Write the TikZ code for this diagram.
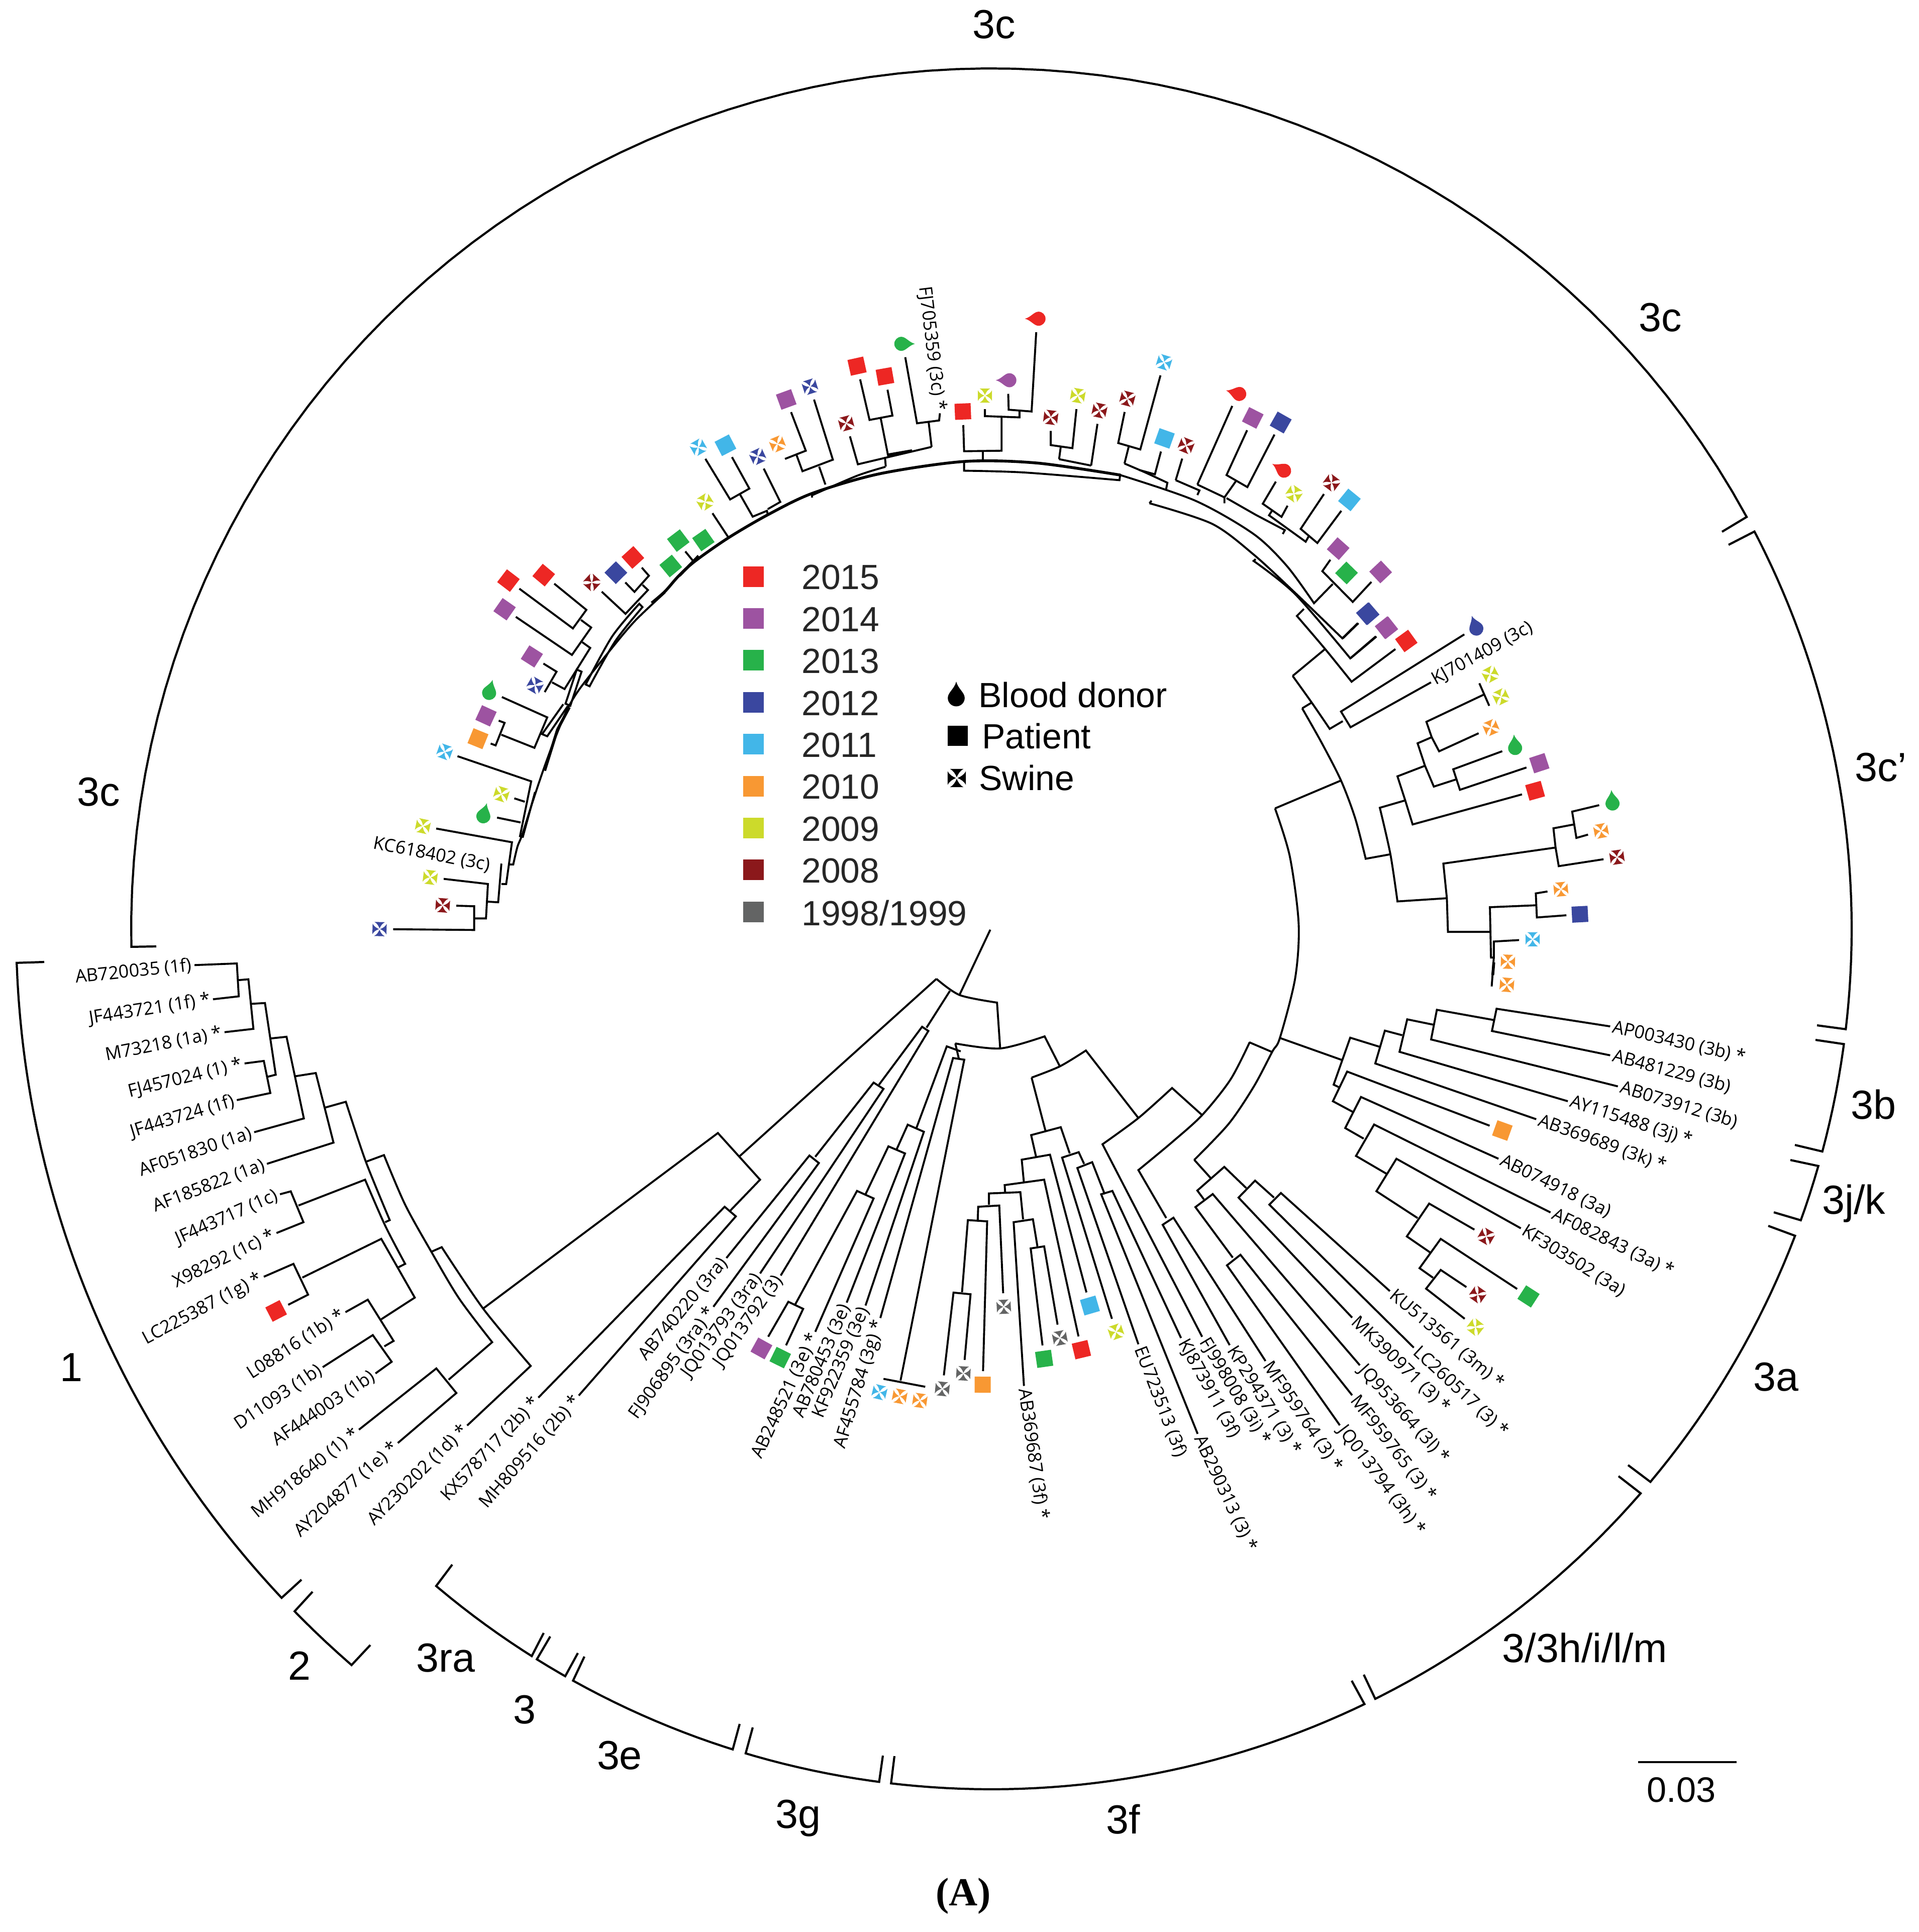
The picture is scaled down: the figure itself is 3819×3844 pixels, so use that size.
\documentclass[tikz,border=0pt]{standalone}
\usepackage{fontspec}
\setmainfont{Liberation Sans}
\newfontfamily\taxonfont{Open Sans}
\newfontfamily\capfont{Liberation Serif}
\usetikzlibrary{calc}

\definecolor{cRed}{HTML}{ED2724}
\definecolor{cPurple}{HTML}{9D53A1}
\definecolor{cGreen}{HTML}{27B24A}
\definecolor{cBlue}{HTML}{3A479F}
\definecolor{cSky}{HTML}{42B6E8}
\definecolor{cOrange}{HTML}{F89833}
\definecolor{cOlive}{HTML}{CCDA2B}
\definecolor{cDark}{HTML}{8B181B}
\definecolor{cGrey}{HTML}{636464}

\tikzset{
  branch/.style={line width=1.1pt},
  spine/.style={line width=1.6pt},
  bracket/.style={line width=1.2pt},
  taxon/.style={font=\taxonfont\fontsize{10.2}{12}\selectfont,inner sep=1.5pt,text=black},
  taxonL/.style={taxon,anchor=east},
  taxonR/.style={taxon,anchor=west},
  clade/.style={font=\fontsize{23}{26}\selectfont},
  yearlabel/.style={font=\fontsize{19.8}{24}\selectfont,text=black!85,anchor=west},
  hostlabel/.style={font=\fontsize{19.8}{24}\selectfont,anchor=west},
  leaf/.style={circle,minimum size=0.54cm,inner sep=0pt,outer sep=0pt},
  yearbox/.style={minimum size=0.41cm,inner sep=0pt,outer sep=0pt},
  pics/sqmark/.style={code={\fill[#1] (-0.16cm,-0.16cm) rectangle (0.16cm,0.16cm);}},
  pics/swinemark/.style={code={\foreach \a in {0,90,180,270}
    \fill[#1,rotate=\a] (0cm,0.012cm) .. controls (-0.025cm,0.07cm) and (-0.05cm,0.11cm) .. (-0.105cm,0.14cm) -- (0.105cm,0.14cm) .. controls (0.05cm,0.11cm) and (0.025cm,0.07cm) .. (0cm,0.012cm) -- cycle;}},
  pics/dropmark/.style={code={\fill[#1] (0cm,0.24cm) .. controls (0.03cm,0.12cm) and (0.14cm,0.06cm) .. (0.14cm,-0.03cm)
    arc[start angle=0,end angle=-180,radius=0.14cm] .. controls (-0.14cm,0.06cm) and (-0.03cm,0.12cm) .. (0cm,0.24cm) -- cycle;}},
  cropA/.style={shift={(0,1800)},x=0.007653cm,y=-0.008291cm},
  cropB/.style={shift={(1100,1800)},x=0.008929cm,y=-0.008291cm},
  cropC/.style={shift={(2300,1200)},x=0.007015cm,y=-0.006378cm},
  cropD/.style={shift={(2300,2000)},x=0.007653cm,y=-0.007015cm},
  cropE/.style={shift={(650,1000)},x=0.006378cm,y=-0.006059cm},
  cropF/.style={shift={(1500,550)},x=0.008291cm,y=-0.005102cm},
  cropG/.style={shift={(1250,800)},x=0.003333cm,y=-0.003333cm},
}

% leaves: name, position, colour
\newcommand{\sqleaf}[3]{\path let \p1=(#2),\p2=(C),\n1={atan2(\y1-\y2,\x1-\x2)-90} in (#2) node[leaf] (#1) {} pic[rotate=\n1] {sqmark=#3};}
\newcommand{\swleaf}[3]{\path let \p1=(#2),\p2=(C),\n1={atan2(\y1-\y2,\x1-\x2)-90} in (#2) node[leaf] (#1) {} pic[rotate=\n1] {swinemark=#3};}
% name, position, direction of the tip, colour
\newcommand{\dropleaf}[4]{\path (#2) node[leaf] (#1) {} pic[rotate=#3-90] {dropmark=#4};}
% outer arcs: first tick end, start angle, end angle, radius, last tick end
\newcommand{\cladearc}[5]{\draw[bracket] #1 -- plot[domain=#2:#3,samples=80] ({1973+#4*cos(\x)},{1848+#4*sin(\x)}) -- #5;}

\begin{document}
\begin{tikzpicture}[x=0.01cm,y=-0.01cm]
\useasboundingbox (0,0) rectangle (3819,3844);
\coordinate (C) at (1960,1880);

% outer arcs
\cladearc{(311,1883)}{178.8}{331.4}{1712}{(3427,1058)}
\cladearc{(3440,1084)}{332.5}{366.7}{1712}{(3616,2040)}
\cladearc{(3613,2069)}{7.7}{15}{1712}{(3572,2278)}
\cladearc{(3563,2308)}{16}{19.8}{1712}{(3530,2412)}
\cladearc{(3519,2439)}{20.9}{40}{1712}{(3240,2915)}
\cladearc{(3221,2937)}{41}{63.5}{1712}{(2714,3332)}
\cladearc{(2690,3344)}{64.3}{96.7}{1712}{(1780,3494)}
\cladearc{(1757,3493)}{97.5}{106.6}{1712}{(1498,3437)}
\cladearc{(1472,3430)}{107.5}{119.1}{1712}{(1163,3296)}
\cladearc{(1150,3289)}{119.7}{121.9}{1712}{(1095,3256)}
\cladearc{(1082,3249)}{122.3}{130.2}{1712}{(900,3113)}
\cladearc{(622,3167)}{135.6}{131}{1941}{(737,3273)}
\cladearc{(88,1914)}{178}{136.7}{1941}{(600,3143)}

\node[clade] (lab3ctop) at (1978,49) {3c};
\node[clade] (lab3cright) at (3304,632) {3c};
\node[clade] (lab3cleft) at (196,1576) {3c};
\node[clade] (lab3cprime) at (3743,1527) {3c’};
\node[clade] (lab3b) at (3728,2198) {3b};
\node[clade] (lab3jk) at (3689,2395) {3j/k};
\node[clade] (lab3a) at (3534,2740) {3a};
\node[clade] (lab3hilm) at (3154,3279) {3/3h/i/l/m};
\node[clade] (lab3f) at (2235,3620) {3f};
\node[clade] (lab3g) at (1588,3618) {3g};
\node[clade] (lab3e) at (1233,3493) {3e};
\node[clade] (lab3) at (1044,3402) {3};
\node[clade] (lab3ra) at (887,3299) {3ra};
\node[clade] (lab2) at (596,3314) {2};
\node[clade] (lab1) at (142,2721) {1};

% scale bar and panel letter
\coordinate (barL) at (3260,3506);
\coordinate (barR) at (3456,3506);
\draw[bracket] (barL) -- (barR);
\node[font=\fontsize{20}{24}\selectfont] (barval) at (3346,3561) {0.03};
\node[font=\capfont\bfseries\fontsize{22.5}{26}\selectfont] (panel) at (1917,3772) {(A)};

% legend
\foreach \yr/\col [count=\i from 0] in {2015/cRed,2014/cPurple,2013/cGreen,2012/cBlue,2011/cSky,2010/cOrange,2009/cOlive,2008/cDark,1998\slash 1999/cGrey}{
  \node[yearbox,fill=\col] (box\i) at (1499,{1147+83.4*\i}) {};
  \node[yearlabel] (year\i) at (1583,{1149+83.4*\i}) {\yr};
}
\path (1903,1385) pic[scale=1.2] {dropmark=black};
\path (1906,1464) pic[scale=1.25] {sqmark=black};
\path (1904,1548) pic[scale=1.3] {swinemark=black};
\node[hostlabel] (hostdonor) at (1935,1383) {Blood donor};
\node[hostlabel] (hostpatient) at (1942,1465) {Patient};
\node[hostlabel] (hostswine) at (1936,1548) {Swine};

% genotype 1
\begin{scope}[cropA]
\node[taxonL,rotate=6] (AB720035) at (505,145) {AB720035 (1f)};
\node[taxonL,rotate=9] (JF443721) at (553,227) {JF443721 (1f) *};
\node[taxonL,rotate=11] (M73218) at (583,306) {M73218 (1a) *};
\node[taxonL,rotate=14] (FJ457024) at (635,381) {FJ457024 (1) *};
\node[taxonL,rotate=17] (JF443724) at (615,469) {JF443724 (1f)};
\node[taxonL,rotate=19] (AF051830) at (660,546) {AF051830 (1a)};
\node[taxonL,rotate=21] (AF185822) at (693,622) {AF185822 (1a)};
\node[taxonL,rotate=24] (JF443717) at (727,695) {JF443717 (1c)};
\node[taxonL,rotate=26] (X98292) at (718,788) {X98292 (1c) *};
\node[taxonL,rotate=28] (LC225387) at (685,893) {LC225387 (1g) *};
\node[taxonL,rotate=33] (L08816) at (897,978) {L08816 (1b) *};
\node[taxonL,rotate=34] (D11093) at (838,1110) {D11093 (1b)};
\node[taxonL,rotate=34] (AF444003) at (975,1125) {AF444003 (1b)};
\node[taxonL,rotate=39] (MH918640) at (932,1260) {MH918640 (1) *};
\node[taxonL,rotate=42] (AY204877) at (1033,1292) {AY204877 (1e) *};
\node[taxonL,rotate=45] (AY230202) at (1213,1250) {AY230202 (1d) *};
\sqleaf{sqOne}{717,975}{cRed}
\draw[branch] (AB720035.east) -- (615,141) -- (620,220) -- (JF443721.east);
\draw[branch] (620,181) -- (645,179) -- (658,298) -- (M73218.east);
\draw[branch] (652,238) -- (688,236) -- (716,408) -- (695,413);
\draw[branch] (FJ457024.east) -- (685,375) -- (702,452) -- (JF443724.east);
\draw[branch] (703,321) -- (744,317) -- (789,513) -- (AF051830.east);
\draw[branch] (765,412) -- (820,404) -- (866,571) -- (AF185822.east);
\draw[branch] (844,487) -- plot[smooth] coordinates {(898,473) (950,617) (1012,757)} -- (1000,762);
\draw[branch] (950,617) -- plot[smooth] coordinates {(997,601) (1052,720) (1120,833) (1192,945) (1278,1050)} -- (1165,1140);
\draw[branch] (1120,833) -- plot[smooth] coordinates {(1147,822) (1255,970) (1378,1107)} -- (AY230202.east);
\draw[branch] (MH918640.east) -- (1133,1113) -- (1185,1172) -- (AY204877.east);
\draw[branch] (775,722) -- plot[smooth] coordinates {(948,660) (1000,770) (1052,862)} -- (1035,870);
\draw[branch] (JF443717.east) -- (755,688) -- (788,762) -- (X98292.east);
\draw[branch] (785,895) -- (990,802) -- (1077,943) -- (990,995);
\draw[branch] (LC225387.east) -- (762,862) -- (800,936) -- (sqOne);
\draw[branch] (L08816.east) -- (955,948) -- (1022,1047) -- (998,1060);
\draw[branch] (D11093.east) -- (968,1033) -- (1017,1097) -- (AF444003.east);
\end{scope}

% genotype 2, 3ra, 3e, 3g, 3f
\begin{scope}[cropB]
\node[taxonL,rotate=47] (KX578717) at (-32,1183) {KX578717 (2b) *};
\node[taxonL,rotate=49] (MH809516) at (58,1178) {MH809516 (2b) *};
\node[taxonL,rotate=50] (AB740220) at (387,848) {AB740220 (3ra)};
\node[taxonL,rotate=54] (FJ906895) at (358,965) {FJ906895 (3ra) *};
\node[taxonL,rotate=54] (JQ013793) at (462,885) {JQ013793 (3ra)};
\node[taxonL,rotate=55] (JQ013792) at (508,890) {JQ013792 (3)};
\node[taxonL,rotate=65] (AB248521) at (585,1025) {AB248521 (3e) *};
\node[taxonL,rotate=67] (AB780453) at (655,955) {AB780453 (3e)};
\node[taxonL,rotate=67] (KF922359) at (697,962) {KF922359 (3e)};
\node[taxonL,rotate=73] (AF455784) at (730,992) {AF455784 (3g) *};
\node[taxonR,rotate=-82] (AB369687) at (1050,1155) {AB369687 (3f) *};
\node[taxonR,rotate=-69] (EU723513) at (1305,1055) {EU723513 (3f)};
\node[taxonR,rotate=-65] (AB290313) at (1437,1270) {AB290313 (3) *};
\node[taxonR,rotate=-61] (KJ873911) at (1400,1040) {KJ873911 (3f)};
\node[taxonR,rotate=-59] (FJ998008) at (1447,1037) {FJ998008 (3i) *};
\sqleaf{sqB1}{465,1065}{cPurple}
\sqleaf{sqB2}{507,1087}{cGreen}
\swleaf{swB1}{728,1170}{cSky}
\swleaf{swB2}{773,1180}{cOrange}
\swleaf{swB3}{818,1190}{cOrange}
\swleaf{swB4}{868,1162}{cGrey}
\swleaf{swB5}{915,1125}{cGrey}
\sqleaf{sqB3}{958,1152}{cOrange}
\swleaf{swB6}{1005,965}{cGrey}
\sqleaf{sqB4}{1095,1090}{cGreen}
\swleaf{swB7}{1130,1040}{cGrey}
\sqleaf{sqB5}{1178,1068}{cRed}
\sqleaf{sqB6}{1197,962}{cSky}
\swleaf{swB8}{1255,1025}{cOlive}
\draw[branch] (-156,970) -- (368,548) -- (462,660) -- (395,735);
\draw[branch] (415,605) -- (855,178);
\draw[branch] (KX578717.east) -- (383,725) -- (408,748) -- (MH809516.east);
\draw[branch] (975,60) -- (907,215);
\draw[branch] plot[smooth] coordinates {(855,178) (907,217) (990,235)} -- (997,345);
\draw[branch] (885,207) -- (833,295);
\draw[branch] (JQ013793.east) -- (737,442) -- (715,427) -- (585,605);
\draw[branch] (727,432) -- (823,293) -- (837,303) -- (JQ013792.east);
\draw[branch] (AB740220.east) -- (572,602) -- (593,620) -- (FJ906895.east);
\draw[branch] plot[smooth] coordinates {(897,333) (997,345) (1096,316)} -- (1130,388);
\draw[branch] (897,333) -- (905,370);
\draw[branch] (909,352) -- (878,340) -- (810,537);
\draw[branch] (AF455784.east) -- (892,368) -- (917,372) -- (775,1142);
\draw[branch] (737,1138) -- (830,1157);
\draw[branch] (766,588) -- (791,528) -- (827,545) -- (KF922359.east);
\draw[branch] (697,695) -- (748,580) -- (785,597) -- (AB780453.east);
\draw[branch] (540,960) -- (678,687) -- (715,705) -- (AB248521.east);
\draw[branch] (sqB1) -- (525,953) -- (558,970) -- (sqB2);
\draw[branch] plot[smooth] coordinates {(1067,415) (1130,388) (1188,350)} -- (1305,512);
\draw[branch] (1067,415) -- (1098,543);
\draw[branch] (1077,605) -- (1066,553) -- (1132,534) -- (1152,597);
\draw[branch] (1050,668) -- (1045,612) -- (1108,600) -- (sqB6);
\draw[branch] (1008,690) -- (1007,673) -- (1095,660) -- (sqB5);
\draw[branch] (972,720) -- (972,693) -- (1042,690) -- (1048,755);
\draw[branch] (947,757) -- (948,725) -- (995,722) -- (swB6);
\draw[branch] (912,930) -- (925,757) -- (968,760) -- (sqB3);
\draw[branch] (swB4) -- (893,931) -- (931,935) -- (swB5);
\draw[branch] (AB369687.west) -- (1027,762) -- (1070,755) -- (1080,820);
\draw[branch] (sqB4) -- (1065,825) -- (1095,820) -- (swB7);
\draw[branch] (swB8) -- (1135,607) -- (1172,594) -- (1184,622);
\draw[branch] (EU723513.west) -- (1169,632) -- (1202,618) -- (1230,695);
\draw[branch] (AB290313.west) -- (1222,695) -- (1247,687) -- (KJ873911.west);
\draw[branch] (FJ998008.west) -- plot[smooth] coordinates {(1225,575) (1305,512) (1380,440)} -- (1447,505);
\draw[branch] (1367,752) -- plot[smooth] coordinates {(1305,637) (1380,570) (1447,505) (1510,420) (1553,330)};
\end{scope}

% 3h/i/l/m, 3a, 3b, 3j/k
\begin{scope}[cropD]
\node[taxonR,rotate=-58] (KP294371) at (192,963) {KP294371 (3) *};
\node[taxonR,rotate=-56] (MF959764) at (285,1008) {MF959764 (3) *};
\node[taxonR,rotate=-53] (JQ013794) at (478,1190) {JQ013794 (3h) *};
\node[taxonR,rotate=-52] (MF959765) at (510,1105) {MF959765 (3) *};
\node[taxonR,rotate=-48] (JQ953664) at (530,1020) {JQ953664 (3l) *};
\node[taxonR,rotate=-44] (MK390971) at (510,885) {MK390971 (3) *};
\node[taxonR,rotate=-43] (LC260517) at (670,970) {LC260517 (3) *};
\node[taxonR,rotate=-40] (KU513561) at (608,810) {KU513561 (3m) *};
\node[taxonR,rotate=-32] (KF303502) at (948,632) {KF303502 (3a)};
\node[taxonR,rotate=-26] (AF082843) at (1025,587) {AF082843 (3a) *};
\node[taxonR,rotate=-26] (AB074918) at (890,435) {AB074918 (3a)};
\node[taxonR,rotate=-20] (AB369689) at (988,323) {AB369689 (3k) *};
\node[taxonR,rotate=-18] (AY115488) at (1070,272) {AY115488 (3j) *};
\node[taxonR,rotate=-17] (AB073912) at (1200,230) {AB073912 (3b)};
\node[taxonR,rotate=-15] (AB481229) at (1180,142) {AB481229 (3b)};
\node[taxonR,rotate=-13] (AP003430) at (1180,60) {AP003430 (3b) *};
\sqleaf{sqD1}{900,355}{cOrange}
\swleaf{swD1}{858,655}{cDark}
\sqleaf{sqD2}{968,825}{cGreen}
\swleaf{swD2}{836,820}{cDark}
\swleaf{swD3}{830,912}{cOlive}
\draw[branch] (243,105) -- (303,133);
\draw[branch] (100,438) -- (143,490);
\draw[branch] (125,550) -- (108,525) -- (178,458) -- (235,518);
\draw[branch] (200,715) -- (103,572) -- (148,535) -- (JQ953664.west);
\draw[branch] (JQ013794.west) -- (185,737) -- (220,707) -- (MF959765.west);
\draw[branch] (MK390971.west) -- (215,545) -- (258,497) -- (307,545);
\draw[branch] (LC260517.west) -- (295,565) -- (325,532) -- (KU513561.west);
\draw[branch] (KP294371.west) -- (18,622) -- (46,602) -- (MF959764.west);
\draw[branch] (323,93) -- (483,155);
\draw[branch] (475,232) -- (462,225) -- (505,92) -- (582,118);
\draw[branch] (640,85) -- (595,72) -- (570,165) -- (AB369689.west);
\draw[branch] (720,55) -- (653,40) -- (633,132) -- (AY115488.west);
\draw[branch] (878,42) -- (730,13) -- (715,97) -- (AB073912.west);
\draw[branch] (AP003430.west) -- (885,10) -- (873,73) -- (AB481229.west);
\draw[branch] (sqD1) -- (497,188) -- (460,272) -- (513,303);
\draw[branch] (AB074918.west) -- (533,260) -- (492,348) -- (540,378);
\draw[branch] (AF082843.west) -- (567,338) -- (520,427) -- (600,478);
\draw[branch] (KF303502.west) -- (625,435) -- (573,527) -- (680,603);
\draw[branch] (swD1) -- (710,562) -- (652,655) -- (712,700);
\draw[branch] (sqD2) -- (740,662) -- (685,745) -- (720,772);
\draw[branch] (swD2) -- (740,750) -- (702,803) -- (swD3);
\end{scope}

% 3c'
\begin{scope}[cropC]
\node[taxonR,rotate=29] (KJ701409) at (780,247) {KJ701409 (3c)};
\sqleaf{sqC1}{1075,585}{cRed}
\sqleaf{sqC2}{1087,499}{cPurple}
\sqleaf{sqC3}{1202,970}{cBlue}
\sqleaf{sqC4}{602,33}{cBlue}
\sqleaf{sqC5}{655,77}{cPurple}
\sqleaf{sqC6}{710,118}{cRed}
\swleaf{swC1}{948,222}{cOlive}
\swleaf{swC2}{978,292}{cOlive}
\swleaf{swC3}{950,388}{cOrange}
\swleaf{swC4}{1262,710}{cOrange}
\swleaf{swC5}{1148,892}{cOrange}
\swleaf{swC6}{1307,792}{cDark}
\swleaf{swC7}{1068,1048}{cSky}
\swleaf{swC8}{998,1118}{cOrange}
\swleaf{swC9}{995,1190}{cOrange}
\dropleaf{drC1}{1018,447}{95}{cGreen}
\dropleaf{drC2}{1294,620}{95}{cGreen}
\dropleaf{drC3}{907,75}{110}{cBlue}
\draw[branch] plot[smooth] coordinates {(338,640) (380,790) (405,1000) (395,1170) (352,1355) (330,1399) (278,1507) (207,1623) (109,1736)};
\draw[branch] (338,640) -- (525,553);
\draw[branch] (388,227) -- (480,143);
\draw[branch] plot[smooth] coordinates {(388,227) (442,310) (493,392)} -- (530,368);
\draw[branch] (drC3) -- (525,338) -- (552,387) -- (KJ701409.west);
\draw[branch] (442,310) -- (415,328);
\draw[branch] plot[smooth] coordinates {(415,328) (470,435) (525,553) (565,670) (595,797)} -- (665,783);
\draw[branch] (707,615) -- (635,638) -- plot[smooth] coordinates {(635,638) (665,783) (685,930)} -- (825,920);
\draw[branch] (763,507) -- (685,540) -- (707,615) -- (728,690) -- (sqC1);
\draw[branch] (782,418) -- (742,437) -- (763,507) -- (788,572) -- (850,550);
\draw[branch] (930,285) -- (767,370) -- (782,418) -- (803,462) -- (swC3);
\draw[branch] (917,250) -- (945,320);
\draw[branch] (drC1) -- (843,518) -- (862,582) -- (sqC2);
\draw[branch] (1133,762) -- (815,812) -- (825,920) -- (828,1025) -- (947,1025);
\draw[branch] (1185,690) -- (1127,702) -- (1133,762) -- (1142,820) -- (swC6);
\draw[branch] (drC2) -- (1180,650) -- (1192,732) -- (swC4);
\draw[branch] (1078,942) -- (947,948) -- (950,1105) -- (958,1105) -- (958,1055) -- (swC7);
\draw[branch] (swC5) -- (1077,905) -- (1080,980) -- (sqC3);
\draw[branch] (958,1105) -- (952,1195);
\draw[spine] (958,1120) -- (955,1160);
\draw[branch] (420,18) -- (400,40) -- plot[smooth] coordinates {(400,40) (480,143) (555,245)} -- (sqC6);
\draw[branch] (530,110) -- (sqC4);
\draw[branch] (552,172) -- (sqC5);
\end{scope}

% top of 3c
\begin{scope}[cropF]
\node[taxonL,rotate=-83] (FJ705359) at (447,534) {FJ705359 (3c) *};
\swleaf{swF1}{135,430}{cBlue}
\sqleaf{sqF1}{78,480}{cPurple}
\swleaf{swF2}{222,573}{cDark}
\sqleaf{sqF2}{248,350}{cRed}
\sqleaf{sqF3}{315,390}{cRed}
\dropleaf{drF1}{358,263}{0}{cGreen}
\sqleaf{sqF4}{502,527}{cRed}
\swleaf{swF3}{555,465}{cOlive}
\dropleaf{drF2}{610,405}{180}{cPurple}
\dropleaf{drF3}{680,165}{180}{cRed}
\swleaf{swF4}{713,550}{cDark}
\swleaf{swF5}{778,465}{cOlive}
\swleaf{swF6}{830,523}{cDark}
\swleaf{swF7}{897,477}{cDark}
\swleaf{swF8}{985,335}{cSky}
\sqleaf{sqF5}{986,632}{cSky}
\swleaf{swF9}{1038,660}{cDark}
\dropleaf{drF4}{1162,457}{165}{cRed}
\sqleaf{sqF6}{1198,552}{cPurple}
\sqleaf{sqF7}{1265,570}{cBlue}
\dropleaf{drF5}{1270,755}{150}{cRed}
\swleaf{swF10}{1297,848}{cOlive}
\swleaf{swF11}{1387,805}{cDark}
\sqleaf{sqF8}{1430,872}{cSky}
\sqleaf{sqF9}{1403,1062}{cPurple}
\sqleaf{sqF10}{1423,1157}{cGreen}
\sqleaf{sqF11}{1505,1153}{cPurple}
\sqleaf{sqF12}{1473,1316}{cBlue}
\sqleaf{sqF13}{1518,1370}{cPurple}
\draw[spine] plot[smooth] coordinates {(-245,1274) (-213,1229) (-181,1170) (-141,1111) (-60,1019) (36,928) (141,846) (302,770) (505,722) (680,728) (880,775)};
\draw[branch] plot[smooth] coordinates {(880,775) (1060,875) (1200,1005) (1280,1130) (1345,1275)} -- (1390,1200);
\draw[branch] (955,875) -- (950,885);
\draw[branch] plot[smooth] coordinates {(950,885) (1100,965) (1200,1085) (1300,1235) (1413,1412)} -- (sqF12);
\draw[branch] (1205,1103) -- (1200,1110) -- plot[smooth] coordinates {(1200,1110) (1300,1240) (1432,1490)} -- (sqF13);
\draw[branch] (505,722) -- (505,758) -- plot[smooth] coordinates {(505,758) (650,765) (878,795)} -- (880,770);
\draw[branch] (550,718) -- (550,682);
\draw[branch] (sqF4) -- (505,682) -- (595,680) -- (595,548);
\draw[branch] (swF3) -- (555,545) -- (638,550) -- (638,525);
\draw[branch] (drF2) -- (612,520) -- (667,527) -- (drF3);
\draw[branch] (427,665) -- (420,570);
\draw[branch] (drF1) -- (392,573) -- (445,562) -- (FJ705359.east);
\draw[branch] (swF2) -- (250,733) -- (427,665);
\draw[spine] (320,697) -- (380,680);
\draw[branch] (315,705) -- (317,742);
\draw[branch] (322,695) -- (305,555);
\draw[branch] (sqF2) -- (278,560) -- (333,543) -- (sqF3);
\draw[branch] (75,712) -- (125,680) -- (sqF1);
\draw[branch] (103,698) -- (117,760) -- (190,715) -- (swF1);
\draw[branch] (157,742) -- (172,812);
% center right
\draw[branch] (733,713) -- (737,665);
\draw[branch] (swF4) -- (713,658) -- (765,670) -- (swF5);
\draw[branch] plot[smooth] coordinates {(733,713) (770,725) (810,738)};
\draw[branch] (810,738) -- (swF6);
\draw[branch] (890,730) -- (900,665);
\draw[branch] (swF7) -- (875,650) -- (928,675) -- (swF8);
\draw[branch] plot[smooth] coordinates {(890,730) (940,765) (993,805)} -- (990,830);
\draw[branch] (925,755) -- (963,772) -- (sqF5);
\draw[branch] (1013,795) -- (swF9);
\draw[branch] (1013,795) -- (1070,835) -- (1065,853);
\draw[branch] (1065,812) -- (drF4);
\draw[branch] (1065,812) -- (1130,862) -- (1130,885);
\draw[branch] (1130,862) -- (1157,800);
\draw[branch] (sqF6) -- (1135,775) -- (1185,822) -- (sqF7);
\draw[branch] (1135,865) -- (1205,930) -- (1275,990) -- (1270,1005);
\draw[branch] (1245,912) -- (1237,932) -- (1325,1035) -- (1332,1015);
\draw[branch] (drF5) -- (1222,887) -- (1267,938) -- (swF10);
\draw[branch] (swF11) -- (1313,985) -- (1353,1040) -- (sqF8);
\draw[branch] (sqF9) -- (1365,1150) -- (1438,1270) -- (sqF11);
\end{scope}

% left top of 3c, close to the legend
\begin{scope}[cropG]
\swleaf{swG1}{420,270}{cSky}
\sqleaf{sqG1}{582,258}{cSky}
\swleaf{swG2}{775,325}{cBlue}
\swleaf{swG3}{893,250}{cOrange}
\swleaf{swG4}{460,597}{cOlive}
\sqleaf{sqG2}{300,828}{cGreen}
\sqleaf{sqG3}{450,825}{cGreen}
\sqleaf{sqG4}{255,980}{cGreen}
\draw[branch] (swG1) -- (610,582) -- (725,517) -- (sqG1);
\draw[branch] (668,550) -- (745,685) -- (830,650) -- (835,672);
\draw[branch] (swG2) -- (910,597) -- (835,640);
\draw[branch] (swG4) -- (597,805);
\draw[branch] (342,893) -- (393,955);
\draw[branch] plot[smooth] coordinates {(1098,558) (1370,440) (1539,387)};
\draw[branch] (1100,545) -- (1100,572);
\end{scope}

% lower left of 3c
\begin{scope}[cropE]
\node[taxonL,rotate=-11] (KC618402) at (518,1195) {KC618402 (3c)};
\sqleaf{sqE1}{567,256}{cRed}
\sqleaf{sqE2}{677,238}{cRed}
\sqleaf{sqE3}{555,350}{cPurple}
\sqleaf{sqE4}{640,505}{cPurple}
\sqleaf{sqE5}{497,700}{cPurple}
\sqleaf{sqE6}{472,775}{cOrange}
\sqleaf{sqE7}{955,180}{cRed}
\sqleaf{sqE8}{902,230}{cBlue}
\swleaf{swE1}{827,262}{cDark}
\swleaf{swE2}{650,600}{cBlue}
\swleaf{swE3}{368,818}{cSky}
\swleaf{swE4}{545,957}{cOlive}
\swleaf{swE5}{300,1062}{cOlive}
\swleaf{swE6}{323,1230}{cOlive}
\swleaf{swE7}{362,1322}{cDark}
\swleaf{swE8}{165,1400}{cBlue}
\dropleaf{drE1}{508,620}{75}{cGreen}
\dropleaf{drE2}{490,1025}{75}{cGreen}
\draw[branch] plot[smooth] coordinates {(1055,295) (960,390) (880,490) (790,610) (750,680) (710,780) (675,880) (640,990) (610,1090) (595,1130) (582,1188)} -- (570,1188);
\draw[spine] (757,672) -- (720,745) -- (680,880);
\draw[spine] (1160,175) -- (1100,240);
\draw[branch] (808,597) -- plot[smooth] coordinates {(808,597) (890,440) (975,332)} -- (985,343) -- plot[smooth] coordinates {(985,343) (900,455) (820,603)} -- cycle;
\draw[branch] (swE1) -- (932,365) -- (1002,287) -- (985,270);
\draw[branch] (sqE8) -- (960,293) -- (1005,240) -- (sqE7);
\draw[branch] (sqE2) -- (810,352) -- (768,413) -- (sqE1);
\draw[branch] (793,385) -- (825,410) -- (765,500) -- (sqE3);
\draw[branch] (797,458) -- (822,477) -- (742,612) -- (703,590);
\draw[branch] (sqE4) -- (717,555) -- (680,622);
\draw[branch] (780,548) -- (795,555) -- (760,667) -- (745,660) -- cycle;
\draw[branch] (738,662) -- (672,760) -- (688,767) -- (752,668);
\draw[branch] (drE1) -- (688,705) -- (648,805) -- (545,762);
\draw[branch] (sqE5) -- (555,723) -- (527,797) -- (sqE6);
\draw[branch] (swE3) -- (638,915) -- (603,1095) -- (612,1097) -- (650,950);
\draw[branch] (swE4) -- (618,982);
\draw[branch] (drE2) -- (605,1050);
\draw[branch] (swE5) -- (578,1115) -- (560,1252) -- (545,1252);
\draw[branch] (572,1188) -- (585,1188);
\draw[branch] (545,1185) -- (535,1312) -- (503,1310);
\draw[branch] (swE6) -- (503,1252) -- (497,1365) -- (462,1365);
\draw[branch] (swE7) -- (460,1325) -- (460,1403) -- (swE8);
\end{scope}

\end{tikzpicture}
\end{document}
